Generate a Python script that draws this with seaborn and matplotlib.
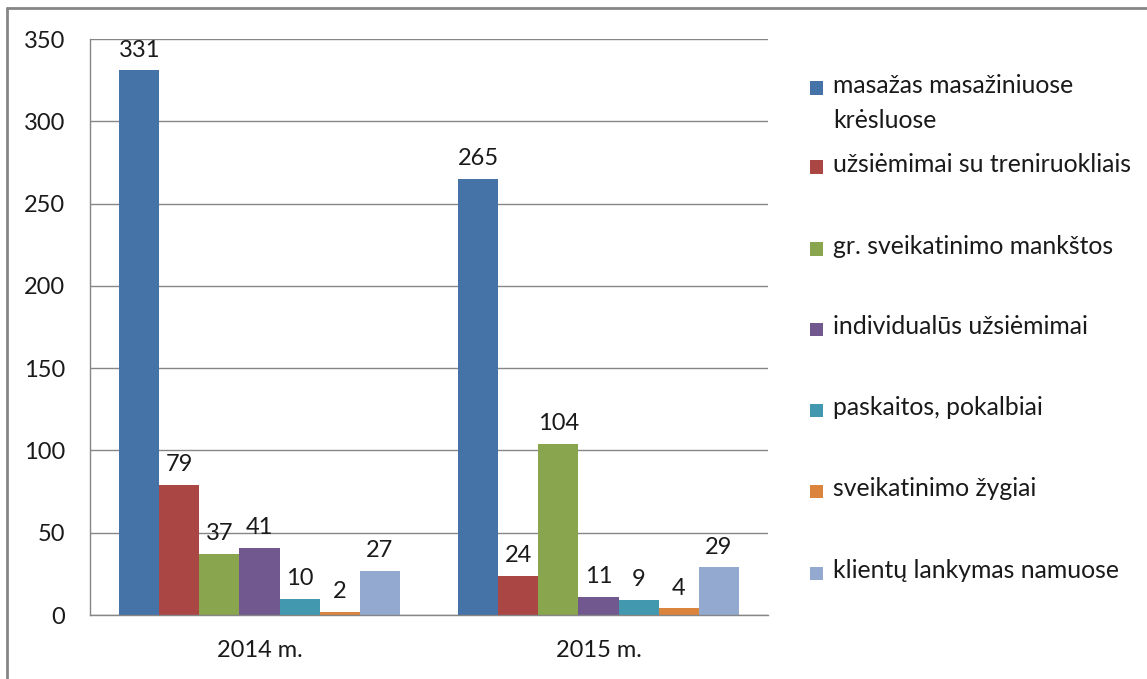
import numpy as np
import pandas as pd
import seaborn as sns
import matplotlib.pyplot as plt
from matplotlib.patches import Rectangle
from matplotlib.lines import Line2D

years = ["2014 m.", "2015 m."]
activities = [
    "masažas masažiniuose\nkrėsluose",
    "užsiėmimai su treniruokliais",
    "gr. sveikatinimo mankštos",
    "individualūs užsiėmimai",
    "paskaitos, pokalbiai",
    "sveikatinimo žygiai",
    "klientų lankymas namuose",
]
values_2014 = [331, 79, 37, 41, 10, 2, 27]
values_2015 = [265, 24, 104, 11, 9, 4, 29]
colors = ["#4572A7", "#AA4643", "#89A54E", "#71588F", "#4198AF", "#DB843D", "#93A9CF"]

df = pd.DataFrame({
    "year": [years[0]] * len(activities) + [years[1]] * len(activities),
    "activity": activities * 2,
    "value": values_2014 + values_2015,
})

sns.set_style("white")
plt.rcParams["font.family"] = ["Lato", "DejaVu Sans"]
fs = 17
txt = "#1a1a1a"

fig = plt.figure(figsize=(11.47, 6.79), dpi=100)
ax = fig.add_axes([90 / 1147, 1 - 615 / 679, (768 - 90) / 1147, (615 - 39) / 679])

sns.barplot(data=df, x="year", y="value", hue="activity", hue_order=activities,
            palette=colors, width=0.826, saturation=1, linewidth=0, ax=ax, legend=False)

for cont in ax.containers:
    ax.bar_label(cont, padding=7, fontsize=fs, color=txt)

ax.set_ylim(0, 350)
ax.set_yticks(range(0, 351, 50))
ax.set_xlim(-0.5, 1.5)
ax.set_xlabel("")
ax.set_ylabel("")
ax.yaxis.grid(True, color="#868686", linewidth=1)
ax.set_axisbelow(True)
ax.tick_params(axis="both", length=0, labelsize=fs, colors=txt)
ax.tick_params(axis="y", pad=18)
ax.tick_params(axis="x", pad=18)
for s in ["top", "right"]:
    ax.spines[s].set_visible(False)
for s in ["left", "bottom"]:
    ax.spines[s].set_color("#868686")
    ax.spines[s].set_linewidth(1)

# legend drawn by hand to keep the first square on the first text line
leg_y = [88, 167, 249, 329, 410, 491, 573]
for lab, col, yp in zip(activities, colors, leg_y):
    yf = 1 - yp / 679
    fig.patches.append(Rectangle((810 / 1147, yf - 6.5 / 679), 13 / 1147, 13 / 679,
                                 transform=fig.transFigure, facecolor=col, edgecolor="none"))
    fig.text(833 / 1147, yf + 14 / 679, lab, fontsize=17.8, va="top", ha="left",
             linespacing=1.62, color=txt)

# outer chart border
fig.add_artist(Line2D([7 / 1147, 1], [1 - 8 / 679, 1 - 8 / 679], transform=fig.transFigure,
                      color="#868686", linewidth=2))
fig.add_artist(Line2D([7 / 1147, 7 / 1147], [0, 1 - 8 / 679], transform=fig.transFigure,
                      color="#868686", linewidth=2))

fig.savefig("out.png", dpi=100)
